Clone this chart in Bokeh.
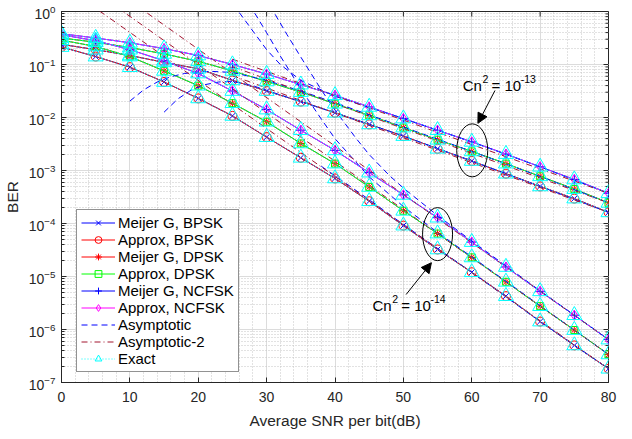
from bokeh.plotting import figure
from bokeh.models import (Range1d, Legend, LegendItem, Label,
                          Arrow, NormalHead, SingleIntervalTicker, LogTicker)
from bokeh.embed import file_html
from bokeh.resources import INLINE

# ---------------- data (log10 of BER) ----------------
snr_db = [0, 5, 10, 15, 20, 25, 30, 35, 40, 45, 50, 55, 60, 65, 70, 75, 80]

# Cn^2 = 1e-13
bpsk_13 = [-0.62, -0.72, -0.83, -0.96, -1.08, -1.30, -1.50, -1.70, -1.91, -2.13, -2.35, -2.59, -2.82, -3.06, -3.30, -3.53, -3.79]
dpsk_13 = [-0.50, -0.58, -0.68, -0.80, -0.94, -1.12, -1.32, -1.52, -1.74, -1.96, -2.19, -2.42, -2.64, -2.87, -3.11, -3.35, -3.61]
ncfsk_13 = [-0.42, -0.50, -0.59, -0.70, -0.83, -1.00, -1.18, -1.38, -1.58, -1.80, -2.02, -2.24, -2.46, -2.69, -2.93, -3.17, -3.43]

# Cn^2 = 1e-14
bpsk_14 = [-0.67, -0.85, -1.05, -1.33, -1.64, -1.97, -2.37, -2.76, -3.15, -3.58, -4.04, -4.49, -4.92, -5.37, -5.85, -6.30, -6.74]
dpsk_14 = [-0.54, -0.66, -0.85, -1.12, -1.40, -1.73, -2.08, -2.49, -2.87, -3.31, -3.76, -4.19, -4.64, -5.10, -5.56, -6.01, -6.47]
ncfsk_14 = [-0.44, -0.55, -0.72, -0.93, -1.17, -1.50, -1.85, -2.24, -2.62, -3.04, -3.46, -3.89, -4.35, -4.82, -5.28, -5.73, -6.19]

# Asymptotic (blue dashed): x in dB, log10 BER
asym_ncfsk_13_x = [24.5, 26, 28, 30, 32, 35, 40, 45, 50, 60, 70, 80]
asym_ncfsk_13_y = [0.30, -0.02, -0.37, -0.72, -1.00, -1.30, -1.60, -1.81, -2.02, -2.46, -2.93, -3.43]
asym_dpsk_13_x = [10, 12, 14, 16, 18, 20, 22, 25, 30, 35, 40, 50, 60, 70, 80]
asym_dpsk_13_y = [-1.69, -1.48, -1.33, -1.23, -1.17, -1.14, -1.13, -1.15, -1.30, -1.50, -1.72, -2.18, -2.64, -3.11, -3.61]
asym_bpsk_13_x = [15, 17, 19, 21, 23, 25, 28, 30, 35, 40, 50, 60, 70, 80]
asym_bpsk_13_y = [-1.90, -1.65, -1.48, -1.38, -1.33, -1.32, -1.40, -1.49, -1.70, -1.91, -2.35, -2.82, -3.30, -3.79]
asym_dpsk_14_x = [27.5, 30, 32, 35, 38, 40, 45, 50, 55, 60, 70, 80]
asym_dpsk_14_y = [0.13, -0.40, -0.84, -1.46, -2.03, -2.40, -3.12, -3.68, -4.17, -4.63, -5.55, -6.47]
asym_ncfsk_14_x = [30.5, 33, 35, 38, 40, 43, 45, 48, 50, 55, 60, 70, 80]
asym_ncfsk_14_y = [0.11, -0.44, -0.86, -1.48, -1.86, -2.38, -2.70, -3.10, -3.33, -3.85, -4.33, -5.27, -6.19]
asym_bpsk_14_x = [38, 40, 45, 50, 60, 70, 80]
asym_bpsk_14_y = [-2.92, -3.10, -3.55, -4.02, -4.92, -5.85, -6.74]

# Asymptotic-2 (dark red dash-dot)
asym2_bpsk_14_x = [4, 80]
asym2_bpsk_14_y = [0.15, -6.74]
asym2_dpsk_14_x = [8, 80]
asym2_dpsk_14_y = [0.09, -6.47]
asym2_ncfsk_14_x = [11, 80]
asym2_ncfsk_14_y = [0.11, -6.19]
asym2_bpsk_13_x = [25, 80]
asym2_bpsk_13_y = [-1.21, -3.79]
asym2_dpsk_13_x = [25, 80]
asym2_dpsk_13_y = [-1.04, -3.61]
asym2_ncfsk_13_x = [25, 80]
asym2_ncfsk_13_y = [-0.90, -3.43]

legend_labels = ["Meijer G, BPSK", "Approx, BPSK", "Meijer G, DPSK", "Approx, DPSK",
                 "Meijer G, NCFSK", "Approx, NCFSK", "Asymptotic", "Asymptotic-2", "Exact"]

x_ticks = [0, 10, 20, 30, 40, 50, 60, 70, 80]
y_decades = [-7, -6, -5, -4, -3, -2, -1, 0]


def ber(logs):
    return [10.0 ** v for v in logs]


FONT = "Liberation Sans"
AX = "#262626"

p = figure(width=624, height=431, x_range=Range1d(0, 80), y_range=Range1d(1e-7, 1),
           y_axis_type="log", output_backend="svg", toolbar_location=None,
           min_border_left=56, min_border_right=16, min_border_top=11, min_border_bottom=47)
p.background_fill_color = "white"
p.border_fill_color = "white"
p.outline_line_color = AX

# axes
p.xaxis.ticker = SingleIntervalTicker(interval=10, num_minor_ticks=5)
p.yaxis.ticker = LogTicker(num_minor_ticks=10)
for ax in (p.xaxis, p.yaxis):
    ax.axis_line_color = AX
    ax.major_tick_line_color = AX
    ax.minor_tick_line_color = AX
    ax.major_tick_in = 5
    ax.major_tick_out = 0
    ax.minor_tick_out = 0
    ax.major_label_text_font = FONT
    ax.major_label_text_font_size = "14px"
    ax.major_label_text_color = AX
    ax.axis_label_text_font = FONT
    ax.axis_label_text_font_size = "15.5px"
    ax.axis_label_text_font_style = "normal"
    ax.axis_label_text_color = AX
p.xaxis.minor_tick_in = 0
p.yaxis.minor_tick_in = 3
p.xaxis.major_label_standoff = 9
p.yaxis.major_label_standoff = 6
p.xaxis.axis_label_standoff = 7
p.yaxis.axis_label_standoff = 5
p.xaxis.axis_label = "Average SNR per bit(dB)"
p.yaxis.axis_label = "BER"

# inward ticks on the top and right edges of the box
p.ray(x=x_ticks, y=[1.0] * len(x_ticks), length=5, length_units="screen",
      angle=-90, angle_units="deg", line_color=AX, line_width=1)
p.ray(x=[80] * len(y_decades), y=[10.0 ** k for k in y_decades], length=5,
      length_units="screen", angle=180, angle_units="deg", line_color=AX, line_width=1)
minor_y = [m * 10.0 ** k for k in y_decades[:-1] for m in range(2, 10)]
p.ray(x=[80] * len(minor_y), y=minor_y, length=3, length_units="screen",
      angle=180, angle_units="deg", line_color=AX, line_width=1)

# grids
for g in (p.xgrid, p.ygrid):
    g.grid_line_color = "#dcdcdc"
    g.grid_line_width = 1
    g.minor_grid_line_color = "#c4c4c4"
    g.minor_grid_line_dash = "1 2"
    g.minor_grid_line_width = 1

BLUE, RED, GREEN, MAG, CYAN, DRED = "#0000ff", "#ff0000", "#00ff00", "#ff00ff", "#00ffff", "#a2142f"

groups = [
    (bpsk_13, dpsk_13, ncfsk_13),
    (bpsk_14, dpsk_14, ncfsk_14),
]

legend_r = {k: [] for k in legend_labels}


def add_series(label, ys, color, marker, size, group_idx):
    l = p.line(snr_db, ber(ys), line_color=color, line_width=1)
    s = p.scatter(snr_db, ber(ys), marker=marker, size=size, line_color=color,
                  fill_color=None, line_width=1)
    if group_idx == 0:
        legend_r[label] += [l, s]


for gi, (b, d, n) in enumerate(groups):
    add_series("Meijer G, BPSK", b, BLUE, "x", 8, gi)
    add_series("Approx, BPSK", b, RED, "circle", 9, gi)
    add_series("Meijer G, DPSK", d, RED, "asterisk", 8, gi)
    add_series("Approx, DPSK", d, GREEN, "square", 7, gi)
    add_series("Meijer G, NCFSK", n, BLUE, "cross", 10, gi)
    add_series("Approx, NCFSK", n, MAG, "diamond", 10, gi)

asym = [(asym_bpsk_13_x, asym_bpsk_13_y), (asym_dpsk_13_x, asym_dpsk_13_y),
        (asym_ncfsk_13_x, asym_ncfsk_13_y), (asym_bpsk_14_x, asym_bpsk_14_y),
        (asym_dpsk_14_x, asym_dpsk_14_y), (asym_ncfsk_14_x, asym_ncfsk_14_y)]
for i, (xs, ys) in enumerate(asym):
    r = p.line(xs, ber(ys), line_color=BLUE, line_width=1, line_dash="6 4")
    if i == 0:
        legend_r["Asymptotic"].append(r)

asym2 = [(asym2_bpsk_13_x, asym2_bpsk_13_y), (asym2_dpsk_13_x, asym2_dpsk_13_y),
         (asym2_ncfsk_13_x, asym2_ncfsk_13_y), (asym2_bpsk_14_x, asym2_bpsk_14_y),
         (asym2_dpsk_14_x, asym2_dpsk_14_y), (asym2_ncfsk_14_x, asym2_ncfsk_14_y)]
for i, (xs, ys) in enumerate(asym2):
    r = p.line(xs, ber(ys), line_color=DRED, line_width=1, line_dash="6 3 1 3")
    if i == 0:
        legend_r["Asymptotic-2"].append(r)

for gi, (b, d, n) in enumerate(groups):
    for ys in (b, d, n):
        l = p.line(snr_db, ber(ys), line_color=CYAN, line_width=1, line_dash="1 2")
        s = p.scatter(snr_db, ber(ys), marker="triangle", size=15, line_color=CYAN,
                      fill_color=None, line_width=1)
        if gi == 0 and not legend_r["Exact"]:
            legend_r["Exact"] += [l, s]

legend = Legend(items=[LegendItem(label=k, renderers=legend_r[k]) for k in legend_labels],
                location=(15, 10), orientation="vertical")
legend.label_text_font = FONT
legend.label_text_font_size = "15px"
legend.label_text_color = "#000000"
legend.glyph_width = 34
legend.glyph_height = 17
legend.label_height = 17
legend.spacing = 0
legend.padding = 4
legend.margin = 0
legend.label_standoff = 3
legend.border_line_color = AX
legend.border_line_width = 1
legend.background_fill_color = "white"
legend.background_fill_alpha = 1
p.add_layout(legend)

# ellipses around the curves
p.ellipse(x=[60.07], y=[2.4e-3], width=31, height=53, width_units="screen",
          height_units="screen", fill_color=None, line_color="black", line_width=1)
p.ellipse(x=[55.0], y=[6.3e-5], width=30, height=53, width_units="screen",
          height_units="screen", fill_color=None, line_color="black", line_width=1)

# arrows
p.add_layout(Arrow(end=NormalHead(size=10, fill_color="black", line_color="black"),
                   x_start=63.4, y_start=10 ** -1.49, x_end=60.9, y_end=10 ** -2.11,
                   line_color="black", line_width=1))
p.add_layout(Arrow(end=NormalHead(size=10, fill_color="black", line_color="black"),
                   x_start=50.4, y_start=10 ** -5.34, x_end=54.1, y_end=10 ** -4.74,
                   line_color="black", line_width=1))


def cn_label(x, y, exp):
    parts = [("Cn", 0, 0, "15px"), ("2", 19.7, 6.5, "10.5px"),
             ("= 10", 28.8, 0, "15px"), (exp, 58.0, 6.5, "10.5px")]
    for txt, dx, dy, fs in parts:
        p.add_layout(Label(x=x, y=y, x_offset=dx, y_offset=dy, text=txt,
                           text_font=FONT, text_font_size=fs, text_color="black",
                           text_baseline="alphabetic", text_align="left"))


cn_label(58.68, 10 ** -1.397, "-13")
cn_label(45.49, 10 ** -5.556, "-14")

open("out.html", "w").write(file_html(p, INLINE))
